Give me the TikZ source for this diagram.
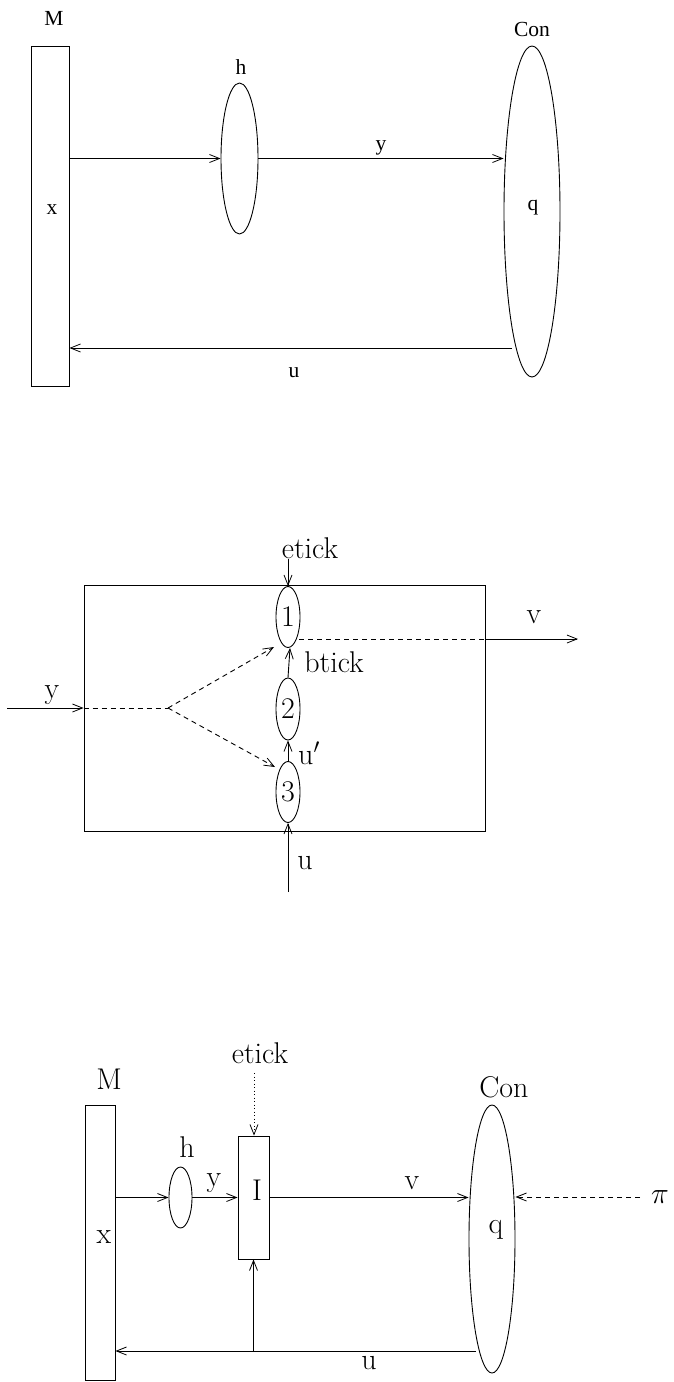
\RequirePackage{fix-cm}
\documentclass[tikz,border=0pt]{standalone}
\usepackage{fontspec}
\newfontfamily\timesf{Liberation Serif}
\usetikzlibrary{shapes.geometric,arrows.meta}
\begin{document}
\begin{tikzpicture}[x=1pt,y=-1pt, line width=0.9pt,
  arr/.style={-{Straight Barb[length=10pt,width=8pt,line width=0.8pt]}},
  ell/.style={draw, ellipse, inner sep=0pt},
  box/.style={draw, rectangle, inner sep=0pt},
  tlab/.style={font=\timesf\fontsize{21.5}{24}\selectfont, inner sep=0pt},
  clab/.style={font=\fontsize{30}{36}\selectfont, inner sep=0pt},
  dsh/.style={dash pattern=on 5pt off 4pt},
  dot/.style={dash pattern=on 1pt off 2.5pt}]
\useasboundingbox (0,0) rectangle (674,1382);

% ---------- top diagram ----------
\node[box, minimum width=38pt, minimum height=340pt] (M) at (50,216) {};
\node[tlab] (Mlab) at (54,18) {M};
\node[tlab] (xlab) at (52,210) {x};
\node[ell, minimum width=37pt, minimum height=151pt] (h) at (239.5,158.5) {};
\node[tlab] (hlab) at (241,67) {h};
\node[ell, minimum width=56pt, minimum height=331pt] (Con) at (532,211.5) {};
\node[tlab] (Conlab) at (532,29) {Con};
\node[tlab] (qlab) at (533,208) {q};
\draw[arr] (M.east |- h.west) -- (h.west);
\draw[arr] (h.east) -- (h.east -| Con.west);
\node[tlab] (ylab) at (381,148) {y};
\coordinate (cu) at (512,348);
\draw[arr] (cu) -- (cu -| M.east);
\node[tlab] (ulab) at (294,373) {u};

% ---------- middle diagram ----------
\node[box, minimum width=401pt, minimum height=246pt] (I1) at (284.5,708) {};
\node[ell, minimum width=24pt, minimum height=61pt, font=\fontsize{30}{36}\selectfont] (e1) at (288,617) {1};
\node[ell, minimum width=24pt, minimum height=62pt, font=\fontsize{30}{36}\selectfont] (e2) at (288,709) {2};
\node[ell, minimum width=24pt, minimum height=61pt, font=\fontsize{30}{36}\selectfont] (e3) at (288,792) {3};
\coordinate (B) at (168,708);
\coordinate (t1) at (274,647);
\coordinate (t3) at (275,767);
\draw[dsh] (I1.west) -- (B);
\draw[dsh,arr] (B) -- (t1);
\draw[dsh,arr] (B) -- (t3);
\coordinate (yin) at (7,708);
\draw[arr] (yin) -- (I1.west);
\node[clab] (ylab2) at (52,695) {y};
\node[clab] (et1) at (310,548) {etick};
\draw[arr] (et1.south -| e1.north) -- (e1.north);
\draw[arr] (e2.north) -- ([xshift=2pt]e1.south);
\node[clab] (bt) at (334,662) {btick};
\draw[arr] (e3.north) -- (e2.south);
\node[clab] (up) at (309,753) {u$'$};
\coordinate (uin) at (288,892);
\draw[arr] (uin) -- (e3.south);
\node[clab] (ulab2) at (305,863) {u};
\coordinate (v1) at (299,639);
\coordinate (vout) at (578,639);
\draw[dsh] (v1) -- (v1 -| I1.east);
\draw[arr] (v1 -| I1.east) -- (vout);
\node[clab] (vlab) at (534,617) {v};

% ---------- bottom diagram ----------
\node[box, minimum width=30pt, minimum height=275pt] (M2) at (100,1242.5) {};
\node[clab] (M2lab) at (109,1079) {M};
\node[clab] (x2lab) at (104,1237) {x};
\node[ell, minimum width=23pt, minimum height=61pt] (h2) at (180.5,1197.5) {};
\node[clab] (h2lab) at (187,1147) {h};
\node[box, minimum width=31pt, minimum height=123pt] (I2) at (253.5,1197.5) {};
\node[clab] (Ilab) at (257,1190) {I};
\node[ell, minimum width=46pt, minimum height=268pt] (Con2) at (492,1239) {};
\node[clab] (Con2lab) at (504,1087) {Con};
\node[clab] (q2lab) at (496,1230) {q};
\draw[arr] (M2.east |- h2.west) -- (h2.west);
\draw[arr] (h2.east) -- (h2.east -| I2.west);
\node[clab] (y2lab) at (214,1183) {y};
\draw[arr] (I2.east) -- (I2.east -| Con2.west);
\node[clab] (v2lab) at (412,1183) {v};
\node[clab] (et2) at (260,1053) {etick};
\coordinate (dtop) at (254,1073);
\draw[dot,arr] (dtop) -- (dtop |- I2.north);
\node[clab] (pilab) at (660,1197) {$\pi$};
\coordinate (pistart) at (640,1197);
\draw[dsh,arr] (pistart) -- (pistart -| Con2.east);
\coordinate (cu2) at (476,1351);
\draw[arr] (cu2) -- (cu2 -| M2.east);
\draw[arr] (cu2 -| I2.south) -- (I2.south);
\node[clab] (u2lab) at (369,1363) {u};
\end{tikzpicture}
\end{document}
